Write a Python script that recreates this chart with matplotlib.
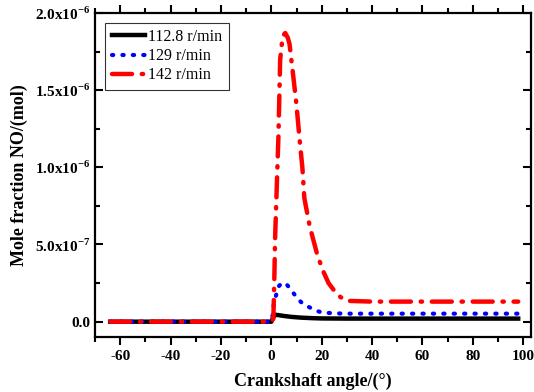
import numpy as np
import matplotlib
matplotlib.use("Agg")
import matplotlib.pyplot as plt
from matplotlib.ticker import MultipleLocator, FixedLocator

plt.rcParams['font.family'] = ['Liberation Serif', 'DejaVu Serif']
plt.rcParams['mathtext.fontset'] = 'custom'
plt.rcParams['mathtext.rm'] = 'Liberation Serif'
plt.rcParams['mathtext.bf'] = 'Liberation Serif:bold'
plt.rcParams['axes.unicode_minus'] = False

# crank angle (deg) and NO mole fraction for each speed
ang_1128 = [-64, -30, 0, 0.5, 1.0, 1.6, 3, 5, 8, 12, 16, 20, 30, 50, 98]
no_1128 = [0, 0, 0, 0.2e-7, 0.35e-7, 0.45e-7, 0.42e-7, 0.37e-7, 0.31e-7, 0.26e-7,
           0.23e-7, 0.21e-7, 0.2e-7, 0.2e-7, 0.2e-7]

ang_129 = [-64, -30, 0, 0.4, 0.8, 1.6, 2.8, 4.0, 4.8, 6.0, 7.2, 9.0, 10.7, 13, 15.5,
           18, 20, 25, 30, 50, 98]
no_129 = [0, 0, 0, 0.3e-7, 0.97e-7, 1.55e-7, 2.27e-7, 2.48e-7, 2.53e-7, 2.42e-7,
          2.2e-7, 1.8e-7, 1.43e-7, 1.1e-7, 0.9e-7, 0.7e-7, 0.6e-7, 0.54e-7,
          0.52e-7, 0.52e-7, 0.52e-7]

ang_142 = [-64, -30, 0, 0.8, 1.2, 1.5, 2.0, 2.8, 3.5, 4.5, 5.5, 6.5, 7.2, 8.7, 10,
           11.1, 12.3, 13.1, 15.2, 18.2, 20.5, 22.7, 25, 27.4, 30, 40, 60, 98]
no_142 = [0, 0, 0, 0.02e-6, 0.3e-6, 0.55e-6, 0.8e-6, 1.2e-6, 1.7e-6, 1.85e-6,
          1.87e-6, 1.84e-6, 1.8e-6, 1.59e-6, 1.4e-6, 1.2e-6, 1.0e-6, 0.8e-6,
          0.62e-6, 0.435e-6, 0.33e-6, 0.25e-6, 0.2e-6, 0.16e-6, 0.135e-6,
          0.13e-6, 0.13e-6, 0.13e-6]

labels = ['112.8 r/min', '129 r/min', '142 r/min']

fig = plt.figure(figsize=(5.34, 3.92), dpi=100)
ax = fig.add_axes([0.178, 0.140, 0.816, 0.827])

ax.plot(ang_1128, no_1128, color='black', lw=3.2, ls='-', label=labels[0])
ax.plot(ang_129, no_129, color='blue', lw=3.0, ls=(0, (0.3, 2.2)),
        dash_capstyle='round', label=labels[1])
ax.plot(ang_142, no_142, color='red', lw=3.2, ls=(0, (4.5, 2.2, 0.3, 2.2)),
        dash_capstyle='round', label=labels[2])

ax.set_xlim(-70, 103)
ax.set_ylim(-1e-7, 2e-6)
ax.xaxis.set_major_locator(MultipleLocator(20))
ax.xaxis.set_minor_locator(MultipleLocator(10))
yt = [0, 5e-7, 1e-6, 1.5e-6, 2e-6]
ax.yaxis.set_major_locator(FixedLocator(yt))
ax.yaxis.set_minor_locator(MultipleLocator(2.5e-7))
ax.set_yticklabels(['0.0', r'5.0x10$^{\mathbf{-7}}$', r'1.0x10$^{\mathbf{-6}}$',
                    r'1.5x10$^{\mathbf{-6}}$', r'2.0x10$^{\mathbf{-6}}$'])

ax.tick_params(axis='x', which='both', direction='out', top=True, width=1.5)
ax.tick_params(axis='y', which='both', direction='in', right=True, width=1.5)
ax.tick_params(which='major', length=6, labelsize=11)
ax.tick_params(which='minor', length=3.5)
for lab in ax.get_xticklabels() + ax.get_yticklabels():
    lab.set_fontweight('bold')
for sp in ax.spines.values():
    sp.set_linewidth(1.6)

ax.set_xlabel('Crankshaft angle/(°)', fontsize=13, fontweight='bold', labelpad=7)
ax.set_ylabel('Mole fraction NO/(mol)', fontsize=13, fontweight='bold', labelpad=5)

leg = ax.legend(loc='upper left', bbox_to_anchor=(0.005, 0.995), fontsize=11.5,
                frameon=True, fancybox=False, edgecolor='black', handlelength=2.1,
                handletextpad=0.2, borderpad=0.4, labelspacing=0.2)
leg.get_frame().set_linewidth(0.8)

fig.savefig('out.png', dpi=100)
